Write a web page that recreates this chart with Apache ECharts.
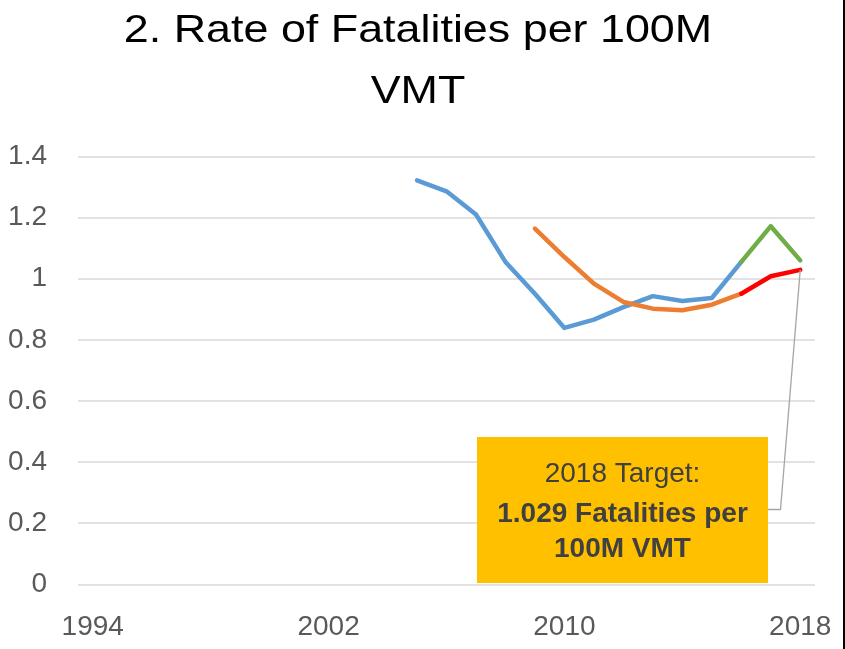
<!DOCTYPE html>
<html>
<head>
<meta charset="utf-8">
<script src="https://cdn.jsdelivr.net/npm/echarts@6/dist/echarts.min.js"></script>
<style>
  html, body { margin: 0; padding: 0; background: #ffffff; }
  #chart { width: 845px; height: 649px; }
</style>
</head>
<body>
<div id="chart"></div>
<script>
// ---- Data ----
var years = ['1994','1995','1996','1997','1998','1999','2000','2001','2002','2003','2004','2005','2006','2007','2008','2009','2010','2011','2012','2013','2014','2015','2016','2017','2018'];
// Actual rate (blue) 2005-2016
var actualYears = ['2005','2006','2007','2008','2009','2010','2011','2012','2013','2014','2015','2016'];
var actualValues = [1.322, 1.286, 1.210, 1.055, 0.951, 0.839, 0.866, 0.907, 0.943, 0.927, 0.937, 1.055];
// Recent actual (green) 2016-2018
var recentYears = ['2016','2017','2018'];
var recentValues = [1.055, 1.172, 1.060];
// 5-year moving average (orange) 2009-2016
var avgYears = ['2009','2010','2011','2012','2013','2014','2015','2016'];
var avgValues = [1.164, 1.071, 0.984, 0.924, 0.902, 0.897, 0.915, 0.951];
// Target path (red) 2016-2018
var targetYears = ['2016','2017','2018'];
var targetValues = [0.951, 1.008, 1.029];
var yTicks = [0, 0.2, 0.4, 0.6, 0.8, 1.0, 1.2, 1.4];

var titleLines = ['2. Rate of Fatalities per 100M', 'VMT'];
var noteLines = ['2018 Target:', '1.029 Fatalities per', '100M VMT'];

function toPairs(ys, vs) { return ys.map(function (y, i) { return [y, vs[i]]; }); }

var chart = echarts.init(document.getElementById('chart'), null, { renderer: 'canvas' });

function lineSeries(name, ys, vs, color) {
  return {
    name: name, type: 'line', data: toPairs(ys, vs),
    showSymbol: false, symbol: 'none', smooth: false,
    lineStyle: { color: color, width: 4.5, cap: 'round', join: 'round' },
    itemStyle: { color: color }, z: 3
  };
}

var option = {
  animation: false,
  backgroundColor: '#ffffff',
  grid: { left: 78, right: 30, top: 156.5, bottom: 64.7, containLabel: false },
  xAxis: {
    type: 'category', data: years, boundaryGap: true,
    axisLine: { show: false }, axisTick: { show: false },
    axisLabel: {
      interval: 7, color: '#595959', fontSize: 28,
      fontFamily: 'Liberation Sans', margin: 29
    },
    splitLine: { show: false }
  },
  yAxis: {
    type: 'value', min: yTicks[0], max: yTicks[yTicks.length - 1], interval: 0.2,
    axisLine: { show: false }, axisTick: { show: false },
    axisLabel: {
      color: '#595959', fontSize: 28, fontFamily: 'Liberation Sans', margin: 31,
      formatter: function (v) { return String(Math.round(v * 10) / 10); }
    },
    splitLine: { show: true, lineStyle: { color: '#d9d9d9', width: 1.5 } }
  },
  series: [
    lineSeries('Actual', actualYears, actualValues, '#5B9BD5'),
    lineSeries('5-Year Average', avgYears, avgValues, '#ED7D31'),
    lineSeries('Recent', recentYears, recentValues, '#70AD47'),
    lineSeries('Target', targetYears, targetValues, '#FF0000')
  ]
};
chart.setOption(option);

// Annotation: callout box with leader line to the 2018 target point
var tp = chart.convertToPixel({ seriesIndex: 3 }, [targetYears[targetYears.length - 1], targetValues[targetValues.length - 1]]);
var box = { x: 477, y: 437, w: 291, h: 146 };
var elbowX = box.x + box.w + 12.5, elbowY = 509.5;

chart.setOption({
  graphic: [
    { type: 'rect', left: 843, top: 0, shape: { x: 0, y: 0, width: 2, height: 649 }, style: { fill: '#000000' }, z: 10 },
    { type: 'text', x: 418, y: 31, scaleX: 1.15, style: { text: titleLines[0], font: '39px "Liberation Sans"', fill: '#000000', align: 'center', verticalAlign: 'middle' }, z: 10 },
    { type: 'text', x: 418, y: 92, scaleX: 1.15, style: { text: titleLines[1], font: '39px "Liberation Sans"', fill: '#000000', align: 'center', verticalAlign: 'middle' }, z: 10 },
    { type: 'polyline', shape: { points: [[box.x + box.w, elbowY], [elbowX, elbowY], [tp[0], tp[1]]] }, style: { stroke: '#a6a6a6', lineWidth: 1.3, fill: null }, z: 4 },
    { type: 'rect', shape: { x: box.x, y: box.y, width: box.w, height: box.h }, style: { fill: '#FFC000' }, z: 5 },
    { type: 'text', x: box.x + box.w / 2, y: 474, style: { text: noteLines[0], font: '28px "Liberation Sans"', fill: '#404040', align: 'center', verticalAlign: 'middle' }, z: 6 },
    { type: 'text', x: box.x + box.w / 2, y: 514, style: { text: noteLines[1], font: 'bold 28px "Liberation Sans"', fill: '#404040', align: 'center', verticalAlign: 'middle' }, z: 6 },
    { type: 'text', x: box.x + box.w / 2, y: 549, style: { text: noteLines[2], font: 'bold 28px "Liberation Sans"', fill: '#404040', align: 'center', verticalAlign: 'middle' }, z: 6 }
  ]
});
</script>
</body>
</html>
